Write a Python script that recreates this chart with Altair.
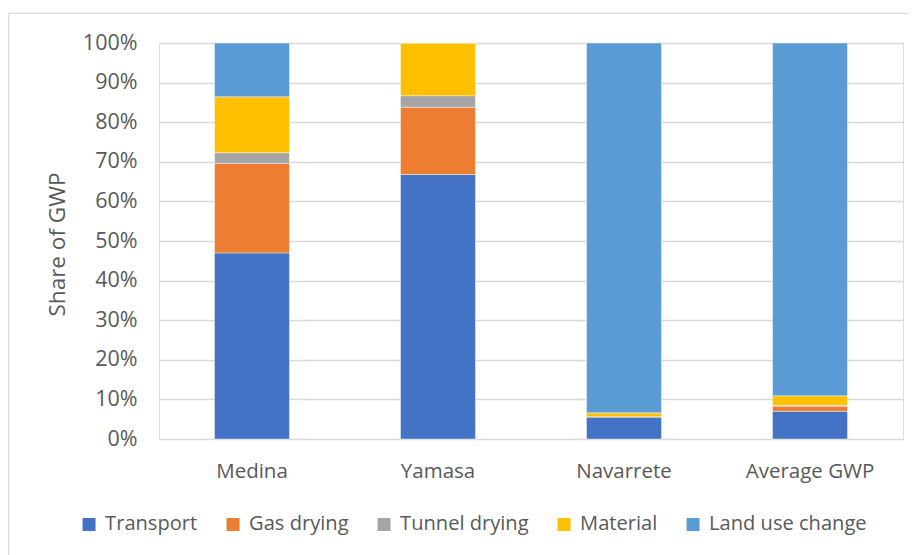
import altair as alt
import pandas as pd

categories = ["Medina", "Yamasa", "Navarrete", "Average GWP"]
components = ["Transport", "Gas drying", "Tunnel drying", "Material", "Land use change"]
colors = ["#4472C4", "#ED7D31", "#A5A5A5", "#FFC000", "#5B9BD5"]

transport = [47.0, 66.8, 5.6, 7.0]
gas_drying = [22.6, 17.0, 0.0, 1.3]
tunnel_drying = [2.7, 2.9, 0.0, 0.2]
material = [14.1, 13.3, 1.0, 2.4]
land_use = [13.6, 0.0, 93.4, 89.1]

series = [transport, gas_drying, tunnel_drying, material, land_use]
rows = []
for ci, (comp, vals) in enumerate(zip(components, series)):
    for cat, v in zip(categories, vals):
        rows.append({"Site": cat, "Component": comp, "Share": v, "order": ci})
df = pd.DataFrame(rows)

FONT = "Open Sans"
TXT = "#595959"
GRID = "#D9D9D9"

bars = alt.Chart(df).mark_bar(stroke="white", strokeWidth=0.6, strokeOpacity=0.7).encode(
    x=alt.X("Site:N", sort=categories,
            scale=alt.Scale(paddingInner=0.597, paddingOuter=0.2985),
            axis=alt.Axis(title=None, labelAngle=0, domain=False, ticks=False,
                          labelPadding=22, labelFontSize=20.5, labelFont=FONT,
                          labelColor=TXT)),
    y=alt.Y("Share:Q", stack="normalize",
            scale=alt.Scale(domain=[0, 1]),
            axis=alt.Axis(title="Share of GWP", format=".0%",
                          values=[i / 10 for i in range(11)],
                          domain=False, ticks=False, grid=True,
                          gridColor=GRID, gridWidth=1.3,
                          labelPadding=22, labelFontSize=21.5, labelFont=FONT,
                          labelColor=TXT, titleFontSize=22.5, titleFont=FONT,
                          titleColor=TXT, titleFontWeight="normal",
                          titleX=-102, titleY=201, titleAngle=-90,
                          titleAlign="center", titleBaseline="middle")),
    color=alt.Color("Component:N", sort=components,
                    scale=alt.Scale(domain=components, range=colors),
                    legend=alt.Legend(title=None, orient="none", direction="horizontal",
                                      columns=5, legendX=-80, legendY=471,
                                      symbolType="square", symbolSize=169,
                                      symbolStrokeWidth=0, labelOffset=6,
                                      columnPadding=25, labelFontSize=20.1,
                                      labelLimit=400,
                                      labelFont=FONT, labelColor=TXT, padding=0)),
    order=alt.Order("order:Q", sort="ascending"),
)

frame = alt.Data(values=[{"a": 1}])
top_border = alt.Chart(frame).mark_rule(color=GRID, strokeWidth=1.3).encode(
    x=alt.value(-150.3), x2=alt.value(770), y=alt.value(-29.7)
)
left_border = alt.Chart(frame).mark_rule(color=GRID, strokeWidth=1.3).encode(
    x=alt.value(-150.3), y=alt.value(-29.7), y2=alt.value(520)
)

chart = alt.layer(bars, top_border, left_border).properties(
    width=744, height=396,
    autosize=alt.AutoSizeParams(type="none"),
    padding={"left": 151, "top": 35, "right": 6, "bottom": 116},
).configure_view(stroke=None).configure(background="white")

chart.save("out.html", embed_options={"renderer": "svg", "actions": False})
